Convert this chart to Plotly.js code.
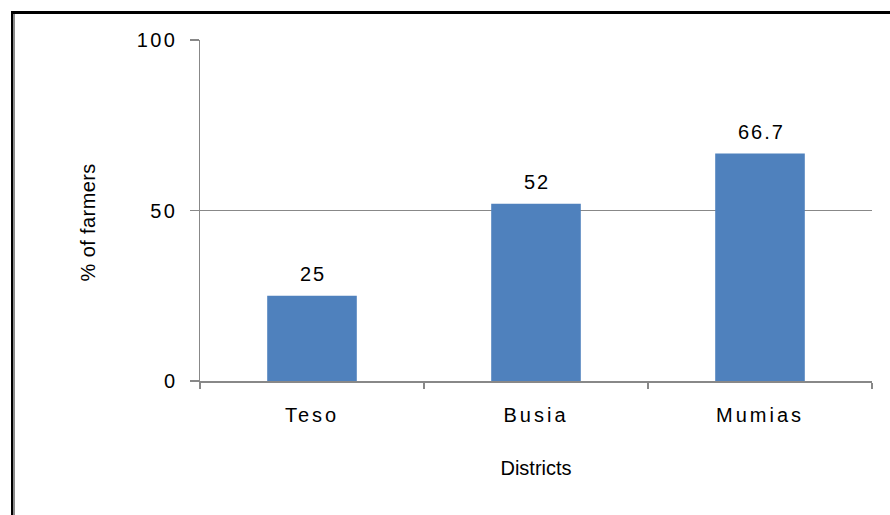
<!DOCTYPE html>
<html>
<head>
<meta charset="utf-8">
<script src="https://cdn.plot.ly/plotly-3.0.1.min.js"></script>
<style>
  html, body { margin: 0; padding: 0; background: #fff; }
  #wrap { position: relative; width: 890px; height: 515px; overflow: hidden; }
  #chart { position: absolute; left: 0; top: 0; width: 890px; height: 515px; }
  #frame { position: absolute; left: 11px; top: 11px; width: 900px; height: 520px;
           border-left: 2px solid #000; border-top: 3px solid #000; pointer-events: none; }
  #frame2 { position: absolute; left: 13px; top: 14px; width: 2px; height: 520px; background: #8a8a8a; pointer-events: none; }
  .xtick text { letter-spacing: 3px; }
  .ytick text { letter-spacing: 2.5px; }
  .annotation .annotation-text { letter-spacing: 2px; }
  .annotation[data-index="3"] .annotation-text { letter-spacing: 0.4px; }
</style>
</head>
<body>
<div id="wrap">
  <div id="chart"></div>
  <div id="frame"></div>
  <div id="frame2"></div>
</div>
<script>
const districts = ["Teso", "Busia", "Mumias"];
const farmersPct = [25, 52, 66.7];
const valueLabels = ["25", "52", "66.7"];
const yTickVals = [0, 50, 100];
const xTitle = "Districts";
const yTitle = "% of farmers";

const font = "Liberation Sans, Arial, sans-serif";

const trace = {
  type: "bar",
  x: districts,
  y: farmersPct,
  marker: { color: "#4F81BD" },
  hoverinfo: "none"
};

const annotations = districts.map((d, i) => ({
  x: d, y: farmersPct[i], xref: "x", yref: "y",
  text: valueLabels[i], showarrow: false,
  yanchor: "bottom", yshift: 9, xshift: 1,
  font: { family: font, size: 20, color: "#000" }
}));
annotations.push({
  xref: "paper", yref: "paper", x: -0.1667, y: 0.466,
  xanchor: "center", yanchor: "middle", textangle: -90,
  text: yTitle, showarrow: false,
  font: { family: font, size: 20, color: "#000" }
});

const layout = {
  width: 890, height: 515,
  margin: { l: 200, r: 18, t: 40, b: 134 },
  paper_bgcolor: "#fff",
  plot_bgcolor: "#fff",
  showlegend: false,
  bargap: 0.6,
  font: { family: font, size: 20, color: "#000" },
  xaxis: {
    type: "category",
    showline: true, linecolor: "#888", linewidth: 1.5,
    ticks: "outside", tickson: "boundaries", ticklen: 6, tickcolor: "#888", tickwidth: 1.5,
    ticklabelstandoff: 15,
    tickfont: { family: font, size: 20, color: "#000" },
    showgrid: false,
    zeroline: false,
    title: { text: xTitle, font: { family: font, size: 20, color: "#000" }, standoff: 36 }
  },
  yaxis: {
    range: [0, 100],
    tickvals: yTickVals,
    showline: true, linecolor: "#888", linewidth: 1.5,
    ticks: "outside", ticklen: 9, tickcolor: "#888", tickwidth: 1.5,
    ticklabelstandoff: 8,
    tickfont: { family: font, size: 20, color: "#000" },
    showgrid: true, gridcolor: "#888", gridwidth: 1.5,
    zeroline: false
  },
  annotations: annotations
};

Plotly.newPlot("chart", [trace], layout, { staticPlot: true, displayModeBar: false });
</script>
</body>
</html>
